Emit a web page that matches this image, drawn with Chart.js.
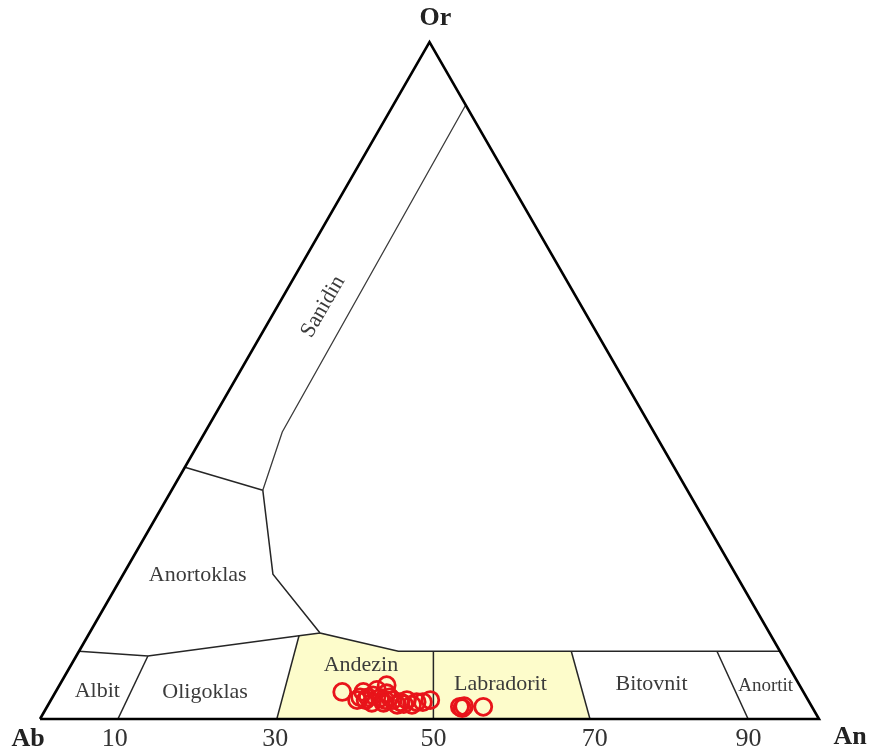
<!DOCTYPE html>
<html>
<head>
<meta charset="utf-8">
<title>Ab–An–Or feldspar diagram</title>
<script src="https://cdn.jsdelivr.net/npm/chart.js@4.4.1/dist/chart.umd.min.js"></script>
<style>
  html, body { margin: 0; padding: 0; background: #ffffff; }
  #wrap { width: 871px; height: 754px; }
</style>
</head>
<body>
<div id="wrap"><canvas id="ternary" width="871" height="754"></canvas></div>
<script>
// Compositions are given as [An, Or] in mol %, Ab = 100 - An - Or.

// Feldspar analyses
const andesineAn = [36.8, 39.5, 42.0, 39.3, 39.5, 41.0, 42.1, 42.6, 43.9, 45.0, 45.7, 47.1, 47.9, 48.7,
                    41.4, 42.9, 44.8, 46.7, 40.4, 41.1, 43.3, 40.5, 42.9, 45.6];
const andesineOr = [4.0, 3.2, 5.0, 2.8, 4.0, 3.5, 3.1, 3.8, 2.8, 2.5, 2.8, 2.5, 2.5, 2.8,
                    2.4, 2.4, 2.1, 2.1, 2.8, 4.3, 3.2, 3.2, 2.8, 2.2];
const labradoriteAn = [53.0, 53.5, 53.4, 56.0];
const labradoriteOr = [1.8, 1.9, 1.6, 1.8];

// Field boundaries
const triangleEdge = [[0, 0], [100, 0], [0, 100], [0, 0]];
const albiteOligoclaseTop = [[0, 10], [9.2, 9.3], [27.1, 12.3], [29.6, 12.7]];
const anorthoclaseTop = [[0, 37.2], [11.7, 33.8]];
const sanidineBoundary = [[11.7, 33.8], [9.9, 42.4], [9.3, 90.7]];
const anorthoclaseRight = [[11.7, 33.8], [19.2, 21.4], [29.6, 12.7], [41.0, 10], [90, 10]];
const plagioclaseDividers = [
  [[10.0, 0], [9.2, 9.3]],
  [[30.4, 0], [27.1, 12.3]],
  [[50.5, 0], [45.5, 10]],
  [[70.6, 0], [63.2, 10]],
  [[90.9, 0], [81.9, 10]]
];
// Andesine + labradorite field (shaded)
const shadedField = [[30.4, 0], [27.1, 12.3], [29.6, 12.7], [41.0, 10], [63.2, 10], [70.6, 0]];

// Field names and label anchors
const fieldNames = ['Albit', 'Oligoklas', 'Andezin', 'Labradorit', 'Bitovnit', 'Anortit', 'Anortoklas', 'Sanidin'];
const fieldAn = [5.3, 19.2, 37.2, 56.5, 75.9, 90.7, 9.6, 5.9];
const fieldOr = [4.1, 4.0, 8.0, 5.2, 5.2, 4.9, 21.3, 60.9];

// Tick labels along the Ab–An edge
const tickLabels = ['10', '30', '50', '70', '90'];
const tickAn = [9.6, 30.2, 50.5, 71.2, 90.95];

// Apex labels
const apexNames = ['Ab', 'An', 'Or'];
const apexAn = [0, 100, 0];
const apexOr = [0, 0, 100];

// ternary [An, Or] -> plot coordinates (x along Ab–An, y = Or height)
function toXY(an, or) { return { x: an + or / 2, y: or }; }
const pts = (arr) => arr.map(p => toXY(p[0], p[1]));
const zipPts = (an, or) => an.map((a, i) => toXY(a, or[i]));

const lineStyle = {
  type: 'line', showLine: true, fill: false, pointRadius: 0, pointHoverRadius: 0,
  tension: 0, borderColor: '#262626', borderWidth: 1.5, order: 2
};

const markerStyle = {
  type: 'scatter', pointRadius: 8.5, pointBorderWidth: 2.8, borderColor: '#e8141a',
  backgroundColor: 'rgba(0,0,0,0)', pointBackgroundColor: 'rgba(0,0,0,0)', order: 0, clip: false
};

const datasets = [
  Object.assign({}, markerStyle, { label: 'Andezin', data: zipPts(andesineAn, andesineOr) }),
  Object.assign({}, markerStyle, { label: 'Labradorit', data: zipPts(labradoriteAn, labradoriteOr) }),
  Object.assign({}, lineStyle, { data: pts(triangleEdge), borderColor: '#000000', borderWidth: 2.6, order: 1, clip: false }),
  Object.assign({}, lineStyle, { data: pts(albiteOligoclaseTop) }),
  Object.assign({}, lineStyle, { data: pts(anorthoclaseTop) }),
  Object.assign({}, lineStyle, { data: pts(sanidineBoundary), borderColor: '#3a3a3a', borderWidth: 1.3 }),
  Object.assign({}, lineStyle, { data: pts(anorthoclaseRight) }),
  ...plagioclaseDividers.map(seg => Object.assign({}, lineStyle, { data: pts(seg) })),
  Object.assign({}, lineStyle, {
    data: pts(shadedField), borderWidth: 0, borderColor: 'rgba(0,0,0,0)',
    fill: 'origin', backgroundColor: '#fdfccb', order: 3
  })
];

// Field names, tick labels and apex labels
const ternaryText = {
  id: 'ternaryText',
  afterDatasetsDraw(chart) {
    const ctx = chart.ctx;
    const sx = chart.scales.x, sy = chart.scales.y;
    const px = (an, or) => { const p = toXY(an, or); return [sx.getPixelForValue(p.x), sy.getPixelForValue(p.y)]; };
    ctx.save();
    ctx.textAlign = 'center';
    ctx.textBaseline = 'middle';

    // mineral fields
    fieldNames.forEach((name, i) => {
      const [x, y] = px(fieldAn[i], fieldOr[i]);
      const size = name === 'Anortit' ? 19 : 22;
      ctx.font = size + 'px "Liberation Serif", "DejaVu Serif", serif';
      ctx.fillStyle = '#3b3b3b';
      if (name === 'Sanidin') {
        ctx.save();
        ctx.translate(x, y);
        ctx.rotate(-Math.PI / 3);
        ctx.fillText(name, 0, 0);
        ctx.restore();
      } else {
        ctx.fillText(name, x, y);
      }
    });

    // An values along the base
    ctx.font = '26px "Liberation Serif", "DejaVu Serif", serif';
    ctx.fillStyle = '#333333';
    tickLabels.forEach((t, i) => {
      const [x, y] = px(tickAn[i], 0);
      ctx.fillText(t, x, y + 20);
    });

    // end members
    const apexOffset = [[-12, 20], [31, 18], [6, -24]];
    ctx.font = 'bold 26px "Liberation Serif", "DejaVu Serif", serif';
    ctx.fillStyle = '#222222';
    apexNames.forEach((n, i) => {
      const [x, y] = px(apexAn[i], apexOr[i]);
      ctx.fillText(n, x + apexOffset[i][0], y + apexOffset[i][1]);
    });
    ctx.restore();
  }
};

new Chart(document.getElementById('ternary'), {
  type: 'scatter',
  data: { datasets },
  options: {
    responsive: false,
    animation: false,
    layout: { padding: { left: 40, right: 52, top: 42, bottom: 35 } },
    scales: {
      x: { type: 'linear', min: 0, max: 100, display: false },
      y: { type: 'linear', min: 0, max: 100, display: false }
    },
    plugins: {
      legend: { display: false },
      tooltip: { enabled: false },
      filler: { propagate: false }
    },
    elements: { line: { capBezierPoints: false } }
  },
  plugins: [ternaryText]
});
</script>
</body>
</html>
